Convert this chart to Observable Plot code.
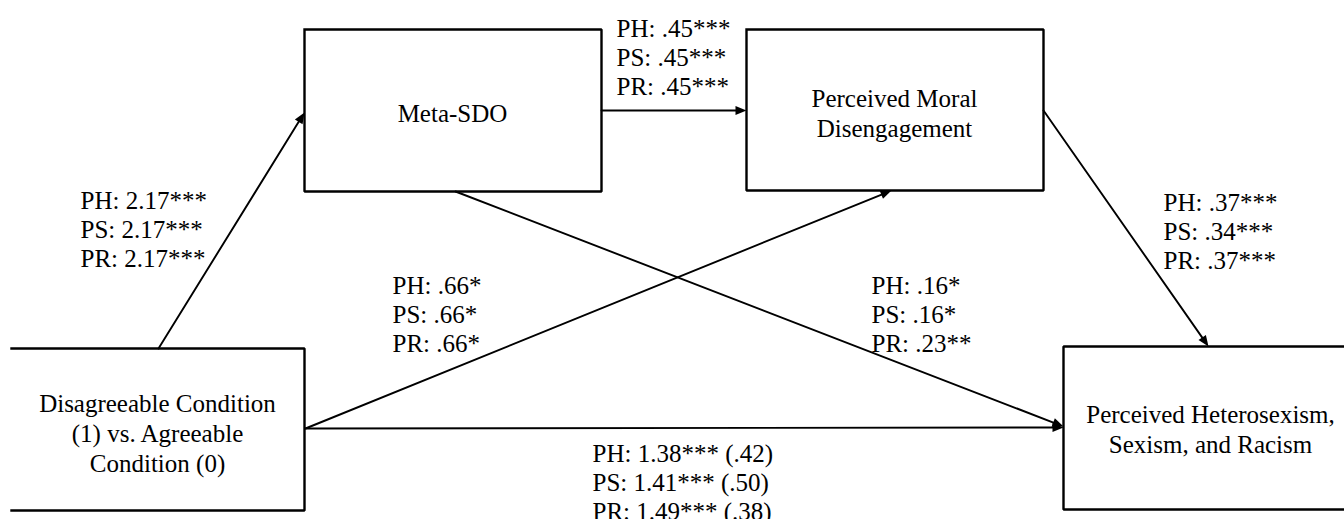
<!DOCTYPE html>
<html>
<head>
<meta charset="utf-8">
<script src="https://cdn.jsdelivr.net/npm/d3@7"></script>
<script src="https://cdn.jsdelivr.net/npm/@observablehq/plot@0.6"></script>
<style>
  html, body { margin: 0; padding: 0; background: #fff; }
  #chart { width: 1344px; height: 519px; overflow: hidden; }
</style>
</head>
<body>
<div id="chart"></div>
<script>
// ---- data ----
const nodeNames = ["Disagreeable Condition\n(1) vs. Agreeable\nCondition (0)", "Meta-SDO", "Perceived Moral\nDisengagement", "Perceived Heterosexism,\nSexism, and Racism"];
const pathFrom = [0, 1, 2, 0, 1, 0];
const pathTo   = [1, 2, 3, 2, 3, 3];
const coefPH = ["2.17***", ".45***", ".37***", ".66*", ".16*", "1.38*** (.42)"];
const coefPS = ["2.17***", ".45***", ".34***", ".66*", ".16*", "1.41*** (.50)"];
const coefPR = ["2.17***", ".45***", ".37***", ".66*", ".23**", "1.49*** (.38)"];
const groupLabels = ["PH", "PS", "PR"];

// ---- layout (diagram units) ----
const boxes = [
  {x1: 11, x2: 304, y1: 348, y2: 510, cx: 157, cy: 432, open: "left"},
  {x1: 304, x2: 601, y1: 29, y2: 191, cx: 452, cy: 112, open: null},
  {x1: 746, x2: 1043, y1: 29, y2: 190, cx: 894, cy: 112, open: null},
  {x1: 1063, x2: 1344, y1: 346, y2: 509, cx: 1210, cy: 428, open: "right"}
];
const anchors = [ // start x, start y, end x, end y
  [158, 348, 304, 112],
  [601, 110, 746, 110],
  [1043, 110, 1208, 346],
  [305, 428, 891, 190],
  [455, 191, 1063, 426],
  [305, 428, 1063, 427]
];
const labelPos = [ // left x, middle-line y
  [80, 228], [616, 56], [1163, 230], [392, 313], [871, 313], [592, 481]
];

const font = "'Liberation Serif', 'Times New Roman', serif";

const boxData = nodeNames.map((name, i) => ({name, ...boxes[i]}));
// outline polylines (an open side is left undrawn, as in the reference)
const outline = [];
boxData.forEach((b, i) => {
  let pts;
  if (b.open === "left") pts = [[b.x1, b.y1], [b.x2, b.y1], [b.x2, b.y2], [b.x1, b.y2]];
  else if (b.open === "right") pts = [[b.x2, b.y1], [b.x1, b.y1], [b.x1, b.y2], [b.x2, b.y2]];
  else pts = [[b.x1, b.y1], [b.x2, b.y1], [b.x2, b.y2], [b.x1, b.y2], [b.x1, b.y1]];
  pts.forEach(([x, y]) => outline.push({box: i, x, y}));
});

const pathData = pathFrom.map((f, i) => {
  const [x1, y1, x2, y2] = anchors[i];
  return {
    from: nodeNames[f], to: nodeNames[pathTo[i]],
    x1, y1, x2, y2,
    rot: Math.atan2(x2 - x1, -(y2 - y1)) * 180 / Math.PI,
    label: groupLabels.map((g, k) => `${g}: ${[coefPH, coefPS, coefPR][k][i]}`).join("\n"),
    lx: labelPos[i][0], ly: labelPos[i][1]
  };
});

// filled arrowhead symbol, tip at origin, pointing up
const headSymbol = {
  draw(context) {
    context.moveTo(0, 0);
    context.lineTo(-4.5, 11);
    context.lineTo(4.5, 11);
    context.closePath();
  }
};

const chart = Plot.plot({
  width: 1344,
  height: 519,
  margin: 0,
  x: {domain: [0, 1344], range: [0, 1344], axis: null},
  y: {domain: [0, 519], range: [0, 519], axis: null},
  style: {background: "#fff", fontFamily: font},
  marks: [
    Plot.rect(boxData, {x1: "x1", x2: "x2", y1: "y1", y2: "y2", fill: "#fff"}),
    Plot.arrow(pathData, {x1: "x1", y1: "y1", x2: "x2", y2: "y2", stroke: "#000", strokeWidth: 1.9, headLength: 0, insetEnd: 6, insetStart: 0}),
    Plot.dot(pathData, {x: "x2", y: "y2", symbol: headSymbol, rotate: "rot", fill: "#000", stroke: "none", r: 5}),
    Plot.line(outline, {x: "x", y: "y", z: "box", stroke: "#000", strokeWidth: 2.4, strokeLinejoin: "miter", strokeLinecap: "square"}),
    Plot.text(boxData, {x: "cx", y: "cy", text: "name", fontSize: 25, fontFamily: font, fill: "#000", lineHeight: 1.2, textAnchor: "middle"}),
    Plot.text(pathData, {x: "lx", y: "ly", text: "label", fontSize: 25, fontFamily: font, fill: "#000", lineHeight: 1.17, textAnchor: "start"})
  ]
});
document.getElementById("chart").appendChild(chart);
</script>
</body>
</html>
